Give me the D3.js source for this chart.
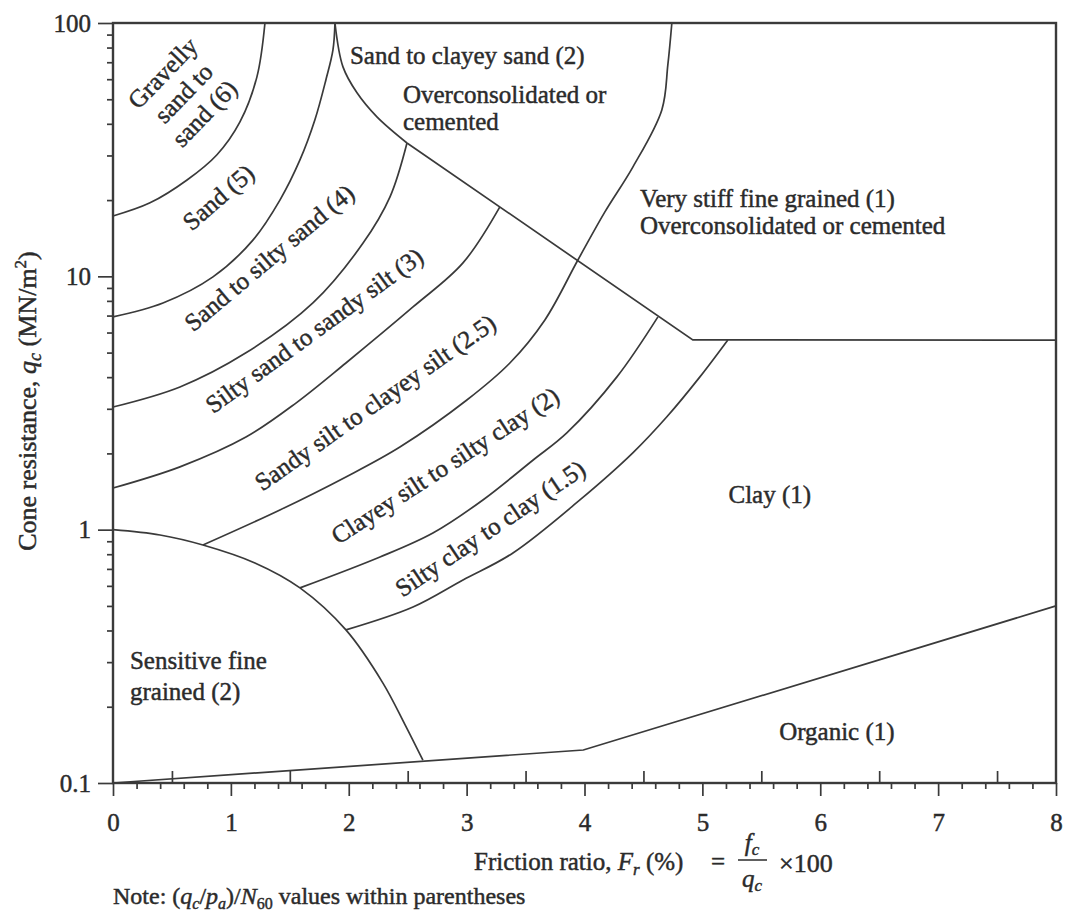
<!DOCTYPE html>
<html>
<head>
<meta charset="utf-8">
<script src="https://cdn.jsdelivr.net/npm/d3@7"></script>
<style>
  body { margin: 0; background: #fff; }
  svg { display: block; font-family: "Liberation Serif", "Times New Roman", serif; }
  .inked text { stroke: #2b2b2b; stroke-width: 0.45px; }
</style>
</head>
<body>
<svg id="chart" width="1065" height="918"></svg>
<script>
// Soil behaviour chart: friction ratio Fr (%) against cone resistance qc (MN/m2)
// every point is [Fr, qc]

const xTickValues = [0, 1, 2, 3, 4, 5, 6, 7, 8];
const yTickValues = [0.1, 1, 10, 100];
const yTickLabels = ["0.1", "1", "10", "100"];

const gravellySandLine = [[0, 17.3], [0.314, 19.5], [0.628, 24.0], [0.882, 30.2], [1.077, 40.7], [1.221, 61.3], [1.289, 100]];
const sandLine = [[0, 6.92], [0.424, 7.85], [0.848, 9.95], [1.187, 13.9], [1.416, 20.0], [1.586, 28.8], [1.713, 41.5], [1.806, 59.6], [1.866, 78.3], [1.883, 100]];
const clayeySandLine = [[1.883, 100], [1.951, 67.1], [2.070, 53.0], [2.239, 42.6], [2.494, 33.6]];
const stiffLine = [[2.494, 33.6], [4.919, 5.61], [8, 5.6]];
const siltySandLine = [[0, 3.05], [0.568, 3.66], [1.128, 4.99], [1.696, 7.85], [2.120, 13.5], [2.350, 20.6], [2.494, 33.6]];
const sandySiltLine = [[0, 1.46], [0.568, 1.77], [1.128, 2.32], [1.552, 3.16], [1.976, 4.55], [2.545, 7.57], [2.969, 11.3], [3.282, 18.8]];
const clayeySiltLine = [[0.763, 0.870], [1.416, 1.196], [1.976, 1.615], [2.434, 2.12], [3.002, 3.25], [3.367, 4.55], [3.664, 6.73], [3.944, 11.6], [4.173, 17.96], [4.410, 27.0], [4.656, 45.4], [4.707, 68.3], [4.741, 100]];
const siltyClayLine = [[1.586, 0.589], [2.265, 0.780], [2.714, 0.970], [3.138, 1.31], [3.562, 1.88], [3.850, 2.41], [4.275, 4.01], [4.623, 6.92]];
const clayLine = [[1.976, 0.402], [2.545, 0.495], [2.969, 0.633], [3.393, 0.809], [3.961, 1.31], [4.410, 2.01], [4.699, 2.79], [4.979, 4.01], [5.216, 5.61]];
const sensitiveLine = [[0, 1.0], [0.399, 0.953], [0.763, 0.870], [1.204, 0.739], [1.586, 0.589], [1.976, 0.402], [2.290, 0.248], [2.477, 0.170], [2.629, 0.123]];
const organicLine = [[0, 0.1], [3.99, 0.135], [8, 0.5]];

const curvedLines = [gravellySandLine, sandLine, clayeySandLine, siltySandLine, sandySiltLine, clayeySiltLine, siltyClayLine, clayLine, sensitiveLine];
const straightLines = [stiffLine, organicLine];

// zone names, anchored in data units
const slantedLabels = [
  { lines: ["Gravelly", "sand to", "sand (6)"], fr: 0.595, qc: 53.0, angle: -46 },
  { lines: ["Sand (5)"], fr: 0.891, qc: 20.6, angle: -41 },
  { lines: ["Sand to silty sand (4)"], fr: 1.323, qc: 11.9, angle: -40 },
  { lines: ["Silty sand to sandy silt (3)"], fr: 1.705, qc: 6.14, angle: -36 },
  { lines: ["Sandy silt to clayey silt (2.5)"], fr: 2.222, qc: 3.19, angle: -35 },
  { lines: ["Clayey silt to silty clay (2)"], fr: 2.816, qc: 1.80, angle: -33 },
  { lines: ["Silty clay to clay (1.5)"], fr: 3.198, qc: 1.016, angle: -34 },
];
const flatLabels = [
  { text: "Sand to clayey sand (2)", fr: 2.010, qc: 68.9 },
  { text: "Overconsolidated or", fr: 2.460, qc: 48.4 },
  { text: "cemented", fr: 2.460, qc: 37.8 },
  { text: "Very stiff fine grained (1)", fr: 4.470, qc: 18.8 },
  { text: "Overconsolidated or cemented", fr: 4.470, qc: 14.7 },
  { text: "Sensitive fine", fr: 0.144, qc: 0.282 },
  { text: "grained (2)", fr: 0.144, qc: 0.213 },
];
const centredLabels = [
  { text: "Clay (1)", fr: 5.572, qc: 1.38 },
  { text: "Organic (1)", fr: 6.141, qc: 0.159 },
];

const ink = "#2b2b2b";
const lineInk = "#3a3a3a";

const svg = d3.select("#chart");
svg.append("rect").attr("width", 1065).attr("height", 918).attr("fill", "#fff");

const x = d3.scaleLinear().domain([0, 8]).range([113, 1056]);
const y = d3.scaleLog().domain([0.1, 100]).range([783, 23]);

// minor tick positions
const yMinor = [];
[0.1, 1, 10].forEach((d) => d3.range(2, 10).forEach((k) => yMinor.push(k * d)));
const xMinor = d3.range(0, 8.001, 0.2).filter((v) => Math.abs(v - Math.round(v)) > 0.01);
const xHalf = d3.range(0.5, 8, 1);

const axes = svg.append("g").attr("class", "inked");

axes.append("g")
  .attr("transform", `translate(${x(0)},0)`)
  .call(d3.axisLeft(y).tickValues(yTickValues).tickFormat((d, i) => yTickLabels[i]).tickSize(15).tickPadding(7));
axes.append("g")
  .attr("transform", `translate(${x(0)},0)`)
  .call(d3.axisLeft(y).tickValues(yMinor).tickFormat("").tickSize(6));

axes.append("g")
  .attr("transform", `translate(0,${y(0.1)})`)
  .call(d3.axisBottom(x).tickValues(xTickValues).tickFormat(d3.format("d")).tickSize(13).tickPadding(17));
axes.append("g")
  .attr("transform", `translate(0,${y(0.1)})`)
  .call(d3.axisBottom(x).tickValues(xMinor).tickFormat("").tickSize(6));
axes.append("g")
  .attr("transform", `translate(0,${y(0.1)})`)
  .call(d3.axisTop(x).tickValues(xHalf).tickFormat("").tickSize(12));

axes.selectAll(".domain").remove();
axes.selectAll(".tick line").attr("stroke", lineInk).attr("stroke-width", 1.7);
axes.selectAll(".tick text")
  .attr("fill", ink)
  .attr("font-size", 25)
  .attr("font-family", "Liberation Serif, serif");

// frame
svg.append("rect")
  .attr("x", x(0)).attr("y", y(100))
  .attr("width", x(8) - x(0)).attr("height", y(0.1) - y(100))
  .attr("fill", "none").attr("stroke", lineInk).attr("stroke-width", 2.4);

const smooth = d3.line().x((d) => x(d[0])).y((d) => y(d[1])).curve(d3.curveCatmullRom.alpha(0.5));
const straight = d3.line().x((d) => x(d[0])).y((d) => y(d[1]));

const bounds = svg.append("g").attr("fill", "none").attr("stroke", lineInk).attr("stroke-width", 1.7);
bounds.selectAll("path.curved").data(curvedLines).join("path").attr("class", "curved").attr("d", smooth);
bounds.selectAll("path.straight").data(straightLines).join("path").attr("class", "straight").attr("d", straight);

// zone labels
const labels = svg.append("g").attr("class", "inked").attr("fill", ink).attr("font-size", 25);

slantedLabels.forEach((lab) => {
  const t = labels.append("text")
    .attr("transform", `translate(${x(lab.fr)},${y(lab.qc)}) rotate(${lab.angle})`)
    .attr("text-anchor", "middle")
    .attr("dominant-baseline", "central");
  const n = lab.lines.length;
  lab.lines.forEach((s, i) => {
    t.append("tspan").attr("x", 0).attr("y", (i - (n - 1) / 2) * 29).text(s);
  });
});

labels.selectAll("text.flat").data(flatLabels).join("text")
  .attr("class", "flat")
  .attr("x", (d) => x(d.fr)).attr("y", (d) => y(d.qc))
  .text((d) => d.text);

labels.selectAll("text.centred").data(centredLabels).join("text")
  .attr("class", "centred")
  .attr("x", (d) => x(d.fr)).attr("y", (d) => y(d.qc))
  .attr("text-anchor", "middle").attr("dominant-baseline", "central")
  .text((d) => d.text);

// axis titles
const titles = svg.append("g").attr("class", "inked").attr("fill", ink).attr("font-size", 25);

const yTitle = titles.append("text")
  .attr("transform", "translate(36,401) rotate(-90)")
  .attr("font-size", 26)
  .attr("text-anchor", "middle");
yTitle.append("tspan").text("Cone resistance, ");
yTitle.append("tspan").attr("font-style", "italic").text("q");
yTitle.append("tspan").attr("font-style", "italic").attr("font-size", 18).attr("dy", 5).text("c");
yTitle.append("tspan").attr("dy", -5).text(" (MN/m");
yTitle.append("tspan").attr("font-size", 17).attr("dy", -10).text("2");
yTitle.append("tspan").attr("dy", 10).text(")");

const xTitle = titles.append("text").attr("x", 474).attr("y", 870);
xTitle.append("tspan").text("Friction ratio, ");
xTitle.append("tspan").attr("font-style", "italic").text("F");
xTitle.append("tspan").attr("font-style", "italic").attr("font-size", 17).attr("dy", 5).text("r");
xTitle.append("tspan").attr("dy", -5).text(" (%)");

titles.append("text").attr("x", 711).attr("y", 870).text("=");
const num = titles.append("text").attr("x", 752).attr("y", 851).attr("text-anchor", "middle");
num.append("tspan").attr("font-style", "italic").text("f");
num.append("tspan").attr("font-style", "italic").attr("font-size", 17).attr("dy", 4).text("c");
const den = titles.append("text").attr("x", 752).attr("y", 887).attr("text-anchor", "middle");
den.append("tspan").attr("font-style", "italic").text("q");
den.append("tspan").attr("font-style", "italic").attr("font-size", 17).attr("dy", 4).text("c");
titles.append("line")
  .attr("x1", 738).attr("x2", 767).attr("y1", 860).attr("y2", 860)
  .attr("stroke", ink).attr("stroke-width", 1.5);
titles.append("text").attr("x", 779).attr("y", 872).attr("font-size", 26).text("\u00d7100");

const note = titles.append("text").attr("x", 113).attr("y", 904).attr("font-size", 24);
note.append("tspan").text("Note: (");
note.append("tspan").attr("font-style", "italic").text("q");
note.append("tspan").attr("font-style", "italic").attr("font-size", 16).attr("dy", 5).text("c");
note.append("tspan").attr("dy", -5).text("/");
note.append("tspan").attr("font-style", "italic").text("p");
note.append("tspan").attr("font-style", "italic").attr("font-size", 16).attr("dy", 5).text("a");
note.append("tspan").attr("dy", -5).text(")/");
note.append("tspan").attr("font-style", "italic").text("N");
note.append("tspan").attr("font-size", 16).attr("dy", 5).text("60");
note.append("tspan").attr("dy", -5).text(" values within parentheses");
</script>
</body>
</html>
